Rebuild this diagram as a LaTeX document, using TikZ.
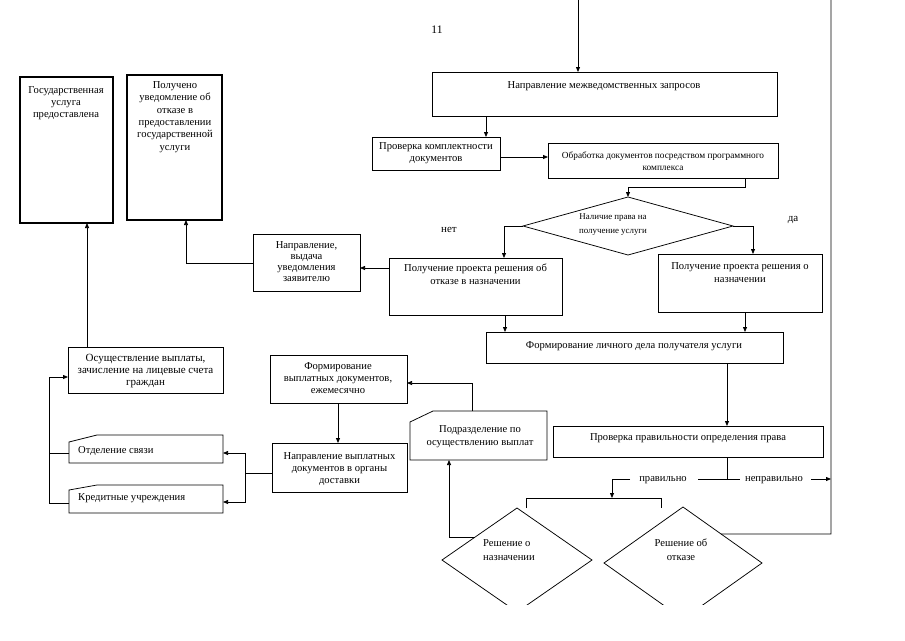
\documentclass[tikz,border=0pt]{standalone}
\usepackage{fontspec}
\setmainfont{Liberation Serif}
\usetikzlibrary{arrows.meta,shapes.geometric,calc}
\newcommand{\mkbox}[6][]{\node[box,#1,minimum width={#5-#3},minimum height={#6-#4}] (#2) at ({(#3+#5)/2},{(#4+#6)/2}) {};}
\begin{document}
\begin{tikzpicture}[x=1pt,y=-1pt,
  box/.style={draw, line width=0.75pt, rectangle, inner sep=0pt, outer sep=0pt},
  dia/.style={draw, diamond, line width=0.75pt, inner sep=0pt, outer sep=0pt},
  txt/.style={align=center, inner sep=0pt, font=\fontsize{10.6}{12}\selectfont},
  ln/.style={line width=0.75pt},
  arr/.style={line width=0.75pt, -{Triangle[length=5pt,width=4pt]}},
  heavy/.style={line width=2.4pt}
]
\useasboundingbox (0,0) rectangle (905,640);

% boxes
\mkbox{B1}{432}{72}{777}{116}
\mkbox{B2}{372}{137}{500}{170}
\mkbox{B3}{548}{143}{778}{178}
\node[dia, minimum width=210, minimum height=58] (D1) at (628,226) {};
\mkbox{B4}{253}{234}{360}{291}
\mkbox{B5}{389}{258}{562}{315}
\mkbox{B6}{658}{254}{822}{312}
\mkbox{B7}{486}{332}{783}{363}
\mkbox{B8}{553}{426}{823}{457}
\mkbox[draw=none]{B9}{410}{411}{547}{460}
\draw[ln] ([yshift=-11pt]B9.north west) -- ([xshift=23pt]B9.north west) -- (B9.north east) -- (B9.south east) -- (B9.south west) -- cycle;
\mkbox{B10}{270}{355}{407}{403}
\mkbox{B11}{272}{443}{407}{492}
\mkbox{B12}{68}{347}{223}{393}
\mkbox[draw=none]{B13}{69}{435}{223}{463}
\draw[ln] ([yshift=-7pt]B13.north west) -- ([xshift=28pt]B13.north west) -- (B13.north east) -- (B13.south east) -- (B13.south west) -- cycle;
\mkbox[draw=none]{B14}{69}{485}{223}{513}
\draw[ln] ([yshift=-5pt]B14.north west) -- ([xshift=28pt]B14.north west) -- (B14.north east) -- (B14.south east) -- (B14.south west) -- cycle;
\mkbox[line width=1.1pt]{B15}{20}{77}{113}{223}
\draw[heavy] (B15.south west) -- (B15.south east) -- (B15.north east);
\mkbox[line width=1.1pt]{B16}{127}{75}{222}{220}
\draw[heavy] (B16.south west) -- (B16.south east) -- (B16.north east);

\begin{scope}
\clip (0,0) rectangle (905,604);
\node[dia, minimum width=150, minimum height=104] (D2) at (517,560) {};
\node[dia, minimum width=158, minimum height=112] (D3) at (683,563) {};
\end{scope}

% texts
\node[txt, font=\fontsize{11.5}{13}\selectfont] (num) at (437,30) {11};
\node[txt] (t1) at (604,86) {Направление межведомственных запросов};
\node[txt] (t2) at (436,153.5) {Проверка комплектности\\документов};
\node[txt, font=\fontsize{9.3}{12}\selectfont] (t3) at (663,161) {Обработка документов посредством программного\\комплекса};
\node[txt, font=\fontsize{8.9}{14}\selectfont] (td1) at (613,225) {Наличие права на\\получение услуги};
\node[txt, font=\fontsize{11}{12}\selectfont] (no) at (449,230) {нет};
\node[txt, font=\fontsize{11}{12}\selectfont] (yes) at (793,220) {да};
\node[txt, font=\fontsize{10.6}{11}\selectfont] (t4) at (306.5,261.5) {Направление,\\выдача\\уведомления\\заявителю};
\node[txt, font=\fontsize{10.6}{13}\selectfont] (t5) at (475.5,274.5) {Получение проекта решения об\\отказе в назначении};
\node[txt, font=\fontsize{10.6}{13}\selectfont] (t6) at (740,272.5) {Получение проекта решения о\\назначении};
\node[txt] (t7) at (634,346) {Формирование личного дела получателя услуги};
\node[txt] (t8) at (688,438) {Проверка правильности определения права};
\node[txt] (lp) at (663,480) {правильно};
\node[txt] (lnp) at (774,480) {неправильно};
\node[txt, align=left, anchor=west, font=\fontsize{10.6}{14}\selectfont] (td2) at (483,550) {Решение о\\назначении};
\node[txt, font=\fontsize{10.6}{14}\selectfont] (td3) at (681,550) {Решение об\\отказе};
\node[txt, font=\fontsize{10.6}{13}\selectfont] (t9) at (480,436.5) {Подразделение по\\осуществлению выплат};
\node[txt] (t10) at (338,378.5) {Формирование\\выплатных документов,\\ежемесячно};
\node[txt] (t11) at (339.5,469) {Направление выплатных\\документов в органы\\доставки};
\node[txt, font=\fontsize{11}{12}\selectfont] (t12) at (145.5,371) {Осуществление выплаты,\\зачисление на лицевые счета\\граждан};
\node[txt, anchor=west] (t13) at (78,451) {Отделение связи};
\node[txt, anchor=west] (t14) at (78,498) {Кредитные учреждения};
\node[txt] (t15) at (66,103) {Государственная\\услуга\\предоставлена};
\node[txt, font=\fontsize{10.6}{12.4}\selectfont] (t16) at (175,117) {Получено\\уведомление об\\отказе в\\предоставлении\\государственной\\услуги};

% connectors
\coordinate (cTop) at (578,0);
\draw[arr] (cTop) -- (cTop |- B1.north);
\coordinate (cR0) at (831,0);
\coordinate (cR1) at (831,534);
\coordinate (cR2) at ($(D3.north)!0.48!(D3.east)$);
\draw[ln] (cR0) -- (cR1) -- (cR2);
\coordinate (x12) at (486,0);
\draw[arr] (x12 |- B1.south) -- (x12 |- B2.north);
\coordinate (y23) at (0,157);
\draw[arr] (y23 -| B2.east) -- (y23 -| B3.west);
\coordinate (k3) at (745,187);
\draw[arr] (k3 |- B3.south) -- (k3) -- (k3 -| D1.north) -- (D1.north);
\coordinate (k5) at (504,0);
\draw[arr] (D1.west) -- (D1.west -| k5) -- (k5 |- B5.north);
\coordinate (k6) at (753,0);
\draw[arr] (D1.east) -- (D1.east -| k6) -- (k6 |- B6.north);
\coordinate (y54) at (0,268);
\draw[arr] (y54 -| B5.west) -- (y54 -| B4.east);
\coordinate (k16) at (186,263);
\draw[arr] (k16 -| B4.west) -- (k16) -- (k16 |- B16.south);
\coordinate (x57) at (505,0);
\draw[arr] (x57 |- B5.south) -- (x57 |- B7.north);
\coordinate (x67) at (745,0);
\draw[arr] (x67 |- B6.south) -- (x67 |- B7.north);
\coordinate (x78) at (727,0);
\draw[arr] (x78 |- B7.south) -- (x78 |- B8.north);
\coordinate (kT) at (727,479);
\draw[ln] (kT |- B8.south) -- (kT);
\draw[ln] (698,479) -- (740,479);
\coordinate (kL) at (612,479);
\coordinate (kB) at (612,498);
\draw[arr] (630,479) -- (kL) -- (kB);
\coordinate (br1) at (526,498);
\coordinate (br2) at (661,498);
\draw[ln] (br1 |- 0,508) -- (br1) -- (br2) -- (br2 |- 0,508);
\coordinate (kR) at (831,479);
\draw[arr] (811,479) -- (kR);
\coordinate (d2e) at ($(D2.west)!0.44!(D2.north)$);
\coordinate (k9) at (449,0);
\draw[arr] (d2e) -- (d2e -| k9) -- (k9 |- B9.south);
\coordinate (k10) at (472,383);
\draw[arr] (k10 |- B9.north) -- (k10) -- (k10 -| B10.east);
\coordinate (x1011) at (338,0);
\draw[arr] (x1011 |- B10.south) -- (x1011 |- B11.north);
\coordinate (kd) at (245,473);
\coordinate (k13) at (245,453);
\coordinate (k14) at (245,502);
\draw[ln] (kd -| B11.west) -- (kd);
\draw[arr] (kd) -- (k13) -- (k13 -| B13.east);
\draw[arr] (kd) -- (k14) -- (k14 -| B14.east);
\coordinate (b13) at (49,453);
\coordinate (b14) at (49,503);
\coordinate (b12) at (49,377);
\draw[ln] (b13 -| B13.west) -- (b13);
\draw[arr] (b14 -| B14.west) -- (b14) -- (b12) -- (b12 -| B12.west);
\coordinate (x1215) at (87,0);
\draw[arr] (x1215 |- B12.north) -- (x1215 |- B15.south);
\end{tikzpicture}
\end{document}
